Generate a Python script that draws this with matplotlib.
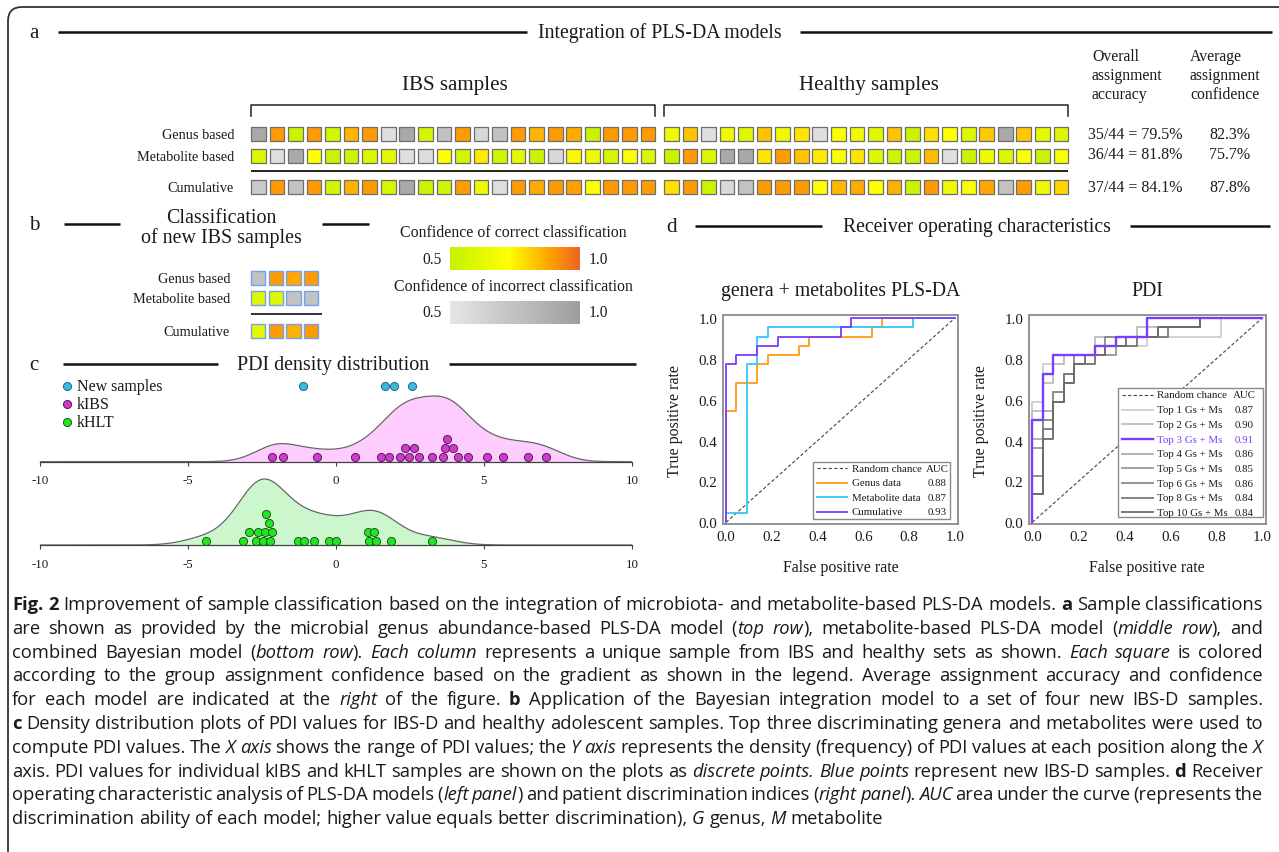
import numpy as np
import matplotlib
matplotlib.use("Agg")
import matplotlib.pyplot as plt
import matplotlib.transforms as mtransforms
from matplotlib.colors import LinearSegmentedColormap
from matplotlib.patches import Rectangle, FancyBboxPatch

plt.rcParams['font.family'] = ['Liberation Serif', 'DejaVu Serif']
plt.rcParams['axes.unicode_minus'] = False

W, H = 1279, 853
INK = '#1a1a1a'

# ---------------- data ----------------
row_names = ['Genus based', 'Metabolite based', 'Cumulative']
# assignment confidence of each sample; negative value = assigned to the wrong group
ibs_genus = [-0.92, 0.90, 0.52, 0.90, 0.55, 0.85, 0.90, -0.55, -0.92, 0.55, -0.75, 0.90,
             -0.60, -0.75, 0.90, 0.85, 0.90, 0.87, 0.52, 0.90, 0.90, 0.90]
ibs_metab = [0.59, -0.55, -0.92, 0.72, 0.52, 0.53, 0.59, 0.62, -0.55, -0.57, 0.72, 0.55,
             0.76, 0.55, 0.62, 0.52, -0.60, 0.74, 0.65, 0.57, 0.70, 0.59]
ibs_cumul = [-0.70, 0.90, -0.75, 0.90, 0.55, 0.86, 0.90, 0.56, -0.92, 0.52, 0.55, 0.90,
             0.65, -0.55, 0.90, 0.87, 0.90, 0.89, 0.72, 0.90, 0.90, 0.90]
hlt_genus = [0.66, 0.83, -0.55, 0.66, 0.60, 0.83, 0.66, 0.77, -0.55, 0.70, 0.66, 0.60,
             0.83, 0.52, 0.78, 0.72, 0.60, 0.82, -0.92, 0.82, 0.63, 0.59]
hlt_metab = [0.52, 0.90, 0.59, -0.92, -0.92, 0.77, 0.90, 0.83, 0.76, 0.70, 0.77, 0.60,
             0.53, 0.53, 0.84, -0.55, 0.52, 0.65, 0.59, 0.70, 0.52, 0.70]
hlt_cumul = [0.78, 0.90, 0.52, -0.60, -0.75, 0.90, 0.90, 0.90, 0.72, 0.85, 0.87, 0.72,
             0.86, 0.52, 0.90, 0.66, 0.70, 0.88, -0.75, 0.90, 0.66, 0.80]
accuracy = ['35/44 = 79.5%', '36/44 = 81.8%', '37/44 = 84.1%']
confidence = ['82.3%', '75.7%', '87.8%']

new_genus = [-0.75, 0.90, 0.88, 0.90]
new_metab = [0.60, 0.60, -0.75, -0.75]
new_cumul = [0.62, 0.90, 0.86, 0.90]

# PDI values and dot-stack level
kibs_pdi = [-2.16, -1.79, -0.64, 0.65, 1.52, 1.78, 2.17, 2.34, 2.48, 2.65, 2.80,
            3.26, 3.62, 3.68, 3.76, 3.95, 4.12, 4.47, 5.11, 5.65, 6.48, 7.11]
kibs_stack = [0, 0, 0, 0, 0, 0, 0, 1, 0, 1, 0, 0, 0, 1, 2, 1, 0, 0, 0, 0, 0, 0]
khlt_pdi = [-4.39, -3.14, -2.93, -2.71, -2.62, -2.45, -2.39, -2.36, -2.25, -2.21, -2.15,
            -1.29, -1.07, -0.74, -0.22, 0.02, 1.07, 1.12, 1.29, 1.36, 1.86, 3.26]
khlt_stack = [0, 0, 1, 0, 1, 0, 1, 3, 2, 0, 1, 0, 0, 0, 0, 0, 1, 0, 1, 0, 0, 0]
new_pdi = [-1.11, 1.65, 1.98, 2.57]

# ROC: true positives (of 22) reached at each false-positive count 0..21 (of 22)
roc_genus = [12, 15, 15, 17, 18, 18, 18, 19, 20, 20, 20, 20, 20, 20, 21, 22, 22, 22, 22, 22, 22, 22]
roc_metab = [1, 1, 17, 20, 21, 21, 21, 21, 21, 21, 21, 21, 21, 21, 21, 21, 21, 21, 22, 22, 22, 22]
roc_cumul = [17, 18, 18, 19, 19, 20, 20, 20, 20, 20, 20, 21, 22, 22, 22, 22, 22, 22, 22, 22, 22, 22]
auc_left = ['0.88', '0.87', '0.93']

pdi_labels = ['Top 1 Gs + Ms', 'Top 2 Gs + Ms', 'Top 3 Gs + Ms', 'Top 4 Gs + Ms',
              'Top 5 Gs + Ms', 'Top 6 Gs + Ms', 'Top 8 Gs + Ms', 'Top 10 Gs + Ms']
pdi_auc = ['0.87', '0.90', '0.91', '0.86', '0.85', '0.86', '0.84', '0.84']
roc_top1 = [13, 17, 17, 18, 18, 18, 18, 19, 19, 19, 19, 20, 20, 20, 20, 20, 20, 20, 22, 22, 22, 22]
roc_top2 = [12, 15, 17, 18, 18, 18, 20, 20, 20, 20, 21, 21, 21, 21, 21, 21, 22, 22, 22, 22, 22, 22]
roc_top3 = [11, 16, 18, 18, 18, 18, 19, 19, 20, 20, 20, 22, 22, 22, 22, 22, 22, 22, 22, 22, 22, 22]
roc_top4 = [9, 12, 14, 15, 17, 17, 18, 18, 20, 20, 20, 20, 21, 21, 21, 21, 22, 22, 22, 22, 22, 22]
roc_top5 = [8, 11, 13, 15, 17, 17, 18, 18, 19, 19, 20, 20, 21, 21, 21, 21, 22, 22, 22, 22, 22, 22]
roc_top6 = [5, 11, 14, 16, 18, 18, 18, 20, 20, 20, 20, 20, 21, 21, 21, 21, 22, 22, 22, 22, 22, 22]
roc_top8 = [3, 10, 13, 16, 17, 17, 19, 19, 19, 19, 20, 20, 20, 21, 21, 21, 22, 22, 22, 22, 22, 22]
roc_top10 = [3, 9, 13, 15, 17, 18, 18, 19, 19, 20, 20, 20, 21, 21, 21, 21, 22, 22, 22, 22, 22, 22]
pdi_curves = [roc_top1, roc_top2, roc_top3, roc_top4, roc_top5, roc_top6, roc_top8, roc_top10]
pdi_colors = ['#cfcfcf', '#bdbdbd', '#7a3cff', '#adadad', '#9c9c9c', '#8a8a8a', '#7b7b7b', '#6b6b6b']

caption = [
    [('Fig. 2', 'b'), (' Improvement of sample classification based on the integration of microbiota- and metabolite-based PLS-DA models. ', 'n'), ('a', 'b'), (' Sample classifications', 'n')],
    [('are shown as provided by the microbial genus abundance-based PLS-DA model (', 'n'), ('top row', 'i'), ('), metabolite-based PLS-DA model (', 'n'), ('middle row', 'i'), ('), and', 'n')],
    [('combined Bayesian model (', 'n'), ('bottom row', 'i'), ('). ', 'n'), ('Each column', 'i'), (' represents a unique sample from IBS and healthy sets as shown. ', 'n'), ('Each square', 'i'), (' is colored', 'n')],
    [('according to the group assignment confidence based on the gradient as shown in the legend. Average assignment accuracy and confidence', 'n')],
    [('for each model are indicated at the ', 'n'), ('right', 'i'), (' of the figure. ', 'n'), ('b', 'b'), (' Application of the Bayesian integration model to a set of four new IBS-D samples.', 'n')],
    [('c', 'b'), (' Density distribution plots of PDI values for IBS-D and healthy adolescent samples. Top three discriminating genera and metabolites were used to', 'n')],
    [('compute PDI values. The ', 'n'), ('X axis', 'i'), (' shows the range of PDI values; the ', 'n'), ('Y axis', 'i'), (' represents the density (frequency) of PDI values at each position along the ', 'n'), ('X', 'i')],
    [('axis. PDI values for individual kIBS and kHLT samples are shown on the plots as ', 'n'), ('discrete points. Blue points', 'i'), (' represent new IBS-D samples. ', 'n'), ('d', 'b'), (' Receiver', 'n')],
    [('operating characteristic analysis of PLS-DA models (', 'n'), ('left panel', 'i'), (') and patient discrimination indices (', 'n'), ('right panel', 'i'), ('). ', 'n'), ('AUC', 'i'), (' area under the curve (represents the', 'n')],
    [('discrimination ability of each model; higher value equals better discrimination), ', 'n'), ('G', 'i'), (' genus, ', 'n'), ('M', 'i'), (' metabolite', 'n')],
]

# ---------------- helpers ----------------
cmap_ok = LinearSegmentedColormap.from_list('ok', [(0, '#c6f200'), (0.45, '#ffff00'), (0.78, '#ffa000'), (1, '#ef6423')])
cmap_bad = LinearSegmentedColormap.from_list('bad', ['#e6e6e6', '#9e9e9e'])


def sq_color(v):
    t = (abs(v) - 0.5) / 0.5
    return cmap_ok(t) if v > 0 else cmap_bad(t)


fig = plt.figure(figsize=(W / 100, H / 100), dpi=100)


def px_axes(x0, y0, x1, y1):
    return fig.add_axes([x0 / W, 1 - y1 / H, (x1 - x0) / W, (y1 - y0) / H])


def kde(vals, grid, bw):
    v = np.asarray(vals)
    d = (grid[:, None] - v[None, :]) / bw
    return np.exp(-0.5 * d ** 2).sum(1) / (len(v) * bw * np.sqrt(2 * np.pi))


# ---------------- c: density panels ----------------
def density_panel(y_top, y_base, vals, stack, fill, fc, ec, peak_px, bw):
    ax = px_axes(39.7, y_top, 632, y_base)
    grid = np.linspace(-10, 10, 800)
    dens = kde(vals, grid, bw)
    ax.fill_between(grid, dens, color=fill, lw=0)
    ax.plot(grid, dens, color='#666666', lw=0.9)
    hpx = y_base - y_top
    ax.set_ylim(0, dens.max() * hpx / peak_px)
    ax.set_xlim(-10, 10)
    tr = mtransforms.blended_transform_factory(ax.transData, ax.transAxes)
    ax.scatter(vals, (4.4 + 9 * np.asarray(stack)) / hpx, s=34, fc=fc, ec=ec, lw=0.7,
               transform=tr, clip_on=False, zorder=3)
    for s in ['top', 'left', 'right']:
        ax.spines[s].set_visible(False)
    ax.spines['bottom'].set_color('#444444')
    ax.spines['bottom'].set_linewidth(0.9)
    ax.set_yticks([])
    ax.set_xticks([-10, -5, 0, 5, 10])
    ax.tick_params(axis='x', length=3, width=0.8, color='#444444', pad=6, labelsize=9.3, labelcolor=INK)
    ax.patch.set_alpha(0)
    return ax, tr, hpx


ax_ibs, tr_ibs, h_ibs = density_panel(378, 462.7, kibs_pdi, kibs_stack, '#ffccff', '#cc3ccc', '#5a1a5a', 65.7, 0.7)
ax_ibs.scatter(new_pdi, [(462.7 - 387) / h_ibs] * len(new_pdi), s=34, fc='#3cb8dc', ec='#1d6a88',
               lw=0.7, transform=tr_ibs, clip_on=False, zorder=3)
density_panel(470, 546, khlt_pdi, khlt_stack, '#ccf7cc', '#22e622', '#1a5a1a', 66, 0.75)


# ---------------- d: ROC panels ----------------
def roc_axes(x0, x1, title):
    ax = px_axes(x0, 316.5, x1, 525)
    ax.set_xlim(-0.015, 1.015)
    ax.set_ylim(-0.008, 1.012)
    ax.plot([0, 1], [0, 1], ls=(0, (3, 2)), color='#444444', lw=0.8)
    for s in ax.spines.values():
        s.set_color('#8a8a8a')
        s.set_linewidth(1.3)
    ticks = [0, 0.2, 0.4, 0.6, 0.8, 1.0]
    ax.set_xticks(ticks)
    ax.set_yticks(ticks)
    ax.set_xticklabels(['%.1f' % t for t in ticks])
    ax.set_yticklabels(['%.1f' % t for t in ticks])
    ax.tick_params(length=0, labelsize=10.8, labelcolor=INK, pad=4)
    ax.set_xlabel('False positive rate', fontsize=11.4, color=INK)
    ax.set_ylabel('True positive rate', fontsize=11.4, color=INK)
    ax.xaxis.set_label_coords(0.5, -0.168)
    ax.yaxis.set_label_coords(-0.168, 0.5)
    ax.set_title(title, fontsize=14.2, color=INK, pad=15)
    return ax


def roc_step(ax, tprs, color, lw=1.2, z=2):
    xs = np.r_[0, np.arange(23)] / 22
    ys = np.r_[0, tprs, tprs[-1]] / 22
    ax.step(xs, ys, where='post', color=color, lw=lw, zorder=z)


ax_l = roc_axes(722.6, 958.4, 'genera + metabolites PLS-DA')
left_colors = ['#ff9a1a', '#33c8f5', '#7a3cff']
for tprs, col in zip([roc_genus, roc_metab, roc_cumul], left_colors):
    roc_step(ax_l, tprs, col, lw=1.3)

ax_r = roc_axes(1028.8, 1265.8, 'PDI')
for i, (tprs, col) in enumerate(zip(pdi_curves, pdi_colors)):
    if i != 2:
        roc_step(ax_r, tprs, col, lw=1.3)
roc_step(ax_r, roc_top3, pdi_colors[2], lw=1.7, z=4)

# ---------------- page overlay (pixel coordinates) ----------------
pg = fig.add_axes([0, 0, 1, 1], zorder=10)
pg.axis('off')


def txt(x, y, s, px, ha='center', va='center', **kw):
    kw.setdefault('color', INK)
    return pg.text(x, y, s, fontsize=px * 0.72, ha=ha, va=va, **kw)


def hline(x0, x1, y, lw=1.8, color='#111111'):
    pg.plot([x0, x1], [y, y], color=color, lw=lw, solid_capstyle='butt')


pg.add_patch(FancyBboxPatch((8, 8), 1500, 1200, boxstyle='round,pad=0,rounding_size=14',
                            fill=False, ec='#333333', lw=1.3))

# a
txt(34, 33, 'a', 21)
hline(58, 527, 33)
txt(660, 33, 'Integration of PLS-DA models', 19.8)
hline(800, 1272, 33)
txt(455, 85, 'IBS samples', 21)
txt(869, 85, 'Healthy samples', 21)
SQ, PITCH = 14.7, 18.55
X_IBS, X_HLT = 251, 664
ROW_Y = [135, 157, 188]
for x0 in (X_IBS, X_HLT):
    x1 = x0 + 21 * PITCH + SQ
    pg.plot([x0, x0, x1, x1], [117, 106, 106, 117], color='#222222', lw=1.1)
for ry, name, ibs_row, hlt_row in zip(ROW_Y, row_names, [ibs_genus, ibs_metab, ibs_cumul],
                                      [hlt_genus, hlt_metab, hlt_cumul]):
    txt(234, ry, name, 14.2, ha='right')
    for x0, vals in ((X_IBS, ibs_row), (X_HLT, hlt_row)):
        for i, v in enumerate(vals):
            pg.add_patch(Rectangle((x0 + i * PITCH, ry - SQ / 2), SQ, SQ, fc=sq_color(v), ec='#6e6e6e', lw=0.9))
hline(X_IBS, X_HLT + 21 * PITCH + SQ, 172, lw=1.4, color='#222222')
for j, s in enumerate(['Overall', 'assignment', 'accuracy']):
    txt(1092, 57 + 19 * j, s, 15.8, ha='left')
for j, s in enumerate(['Average', 'assignment', 'confidence']):
    txt(1190, 57 + 19 * j, s, 15.8, ha='left')
for ry, a_s, c_s in zip([135, 155, 188], accuracy, confidence):
    txt(1135, ry, a_s, 16, ha='center')
    txt(1230, ry, c_s, 16, ha='center')

# b
txt(34, 225, 'b', 21)
hline(64, 120, 225)
hline(322, 369, 225)
txt(221, 218, 'Classification', 20)
txt(221, 238, 'of new IBS samples', 20)
B_Y = [279, 299, 332]
for ry, name, vals in zip(B_Y, row_names, [new_genus, new_metab, new_cumul]):
    txt(230, ry, name, 14.2, ha='right')
    for i, v in enumerate(vals):
        pg.add_patch(Rectangle((251 + i * 17.6, ry - 7.2), 14.4, 14.4, fc=sq_color(v), ec='#6fa3f0', lw=1.0))
hline(251, 322, 315, lw=1.4, color='#333333')

grad = np.linspace(0, 1, 256)[None, :]
txt(513, 233, 'Confidence of correct classification', 15.9)
pg.imshow(grad, cmap=cmap_ok, extent=[450, 580, 271, 248], aspect='auto')
txt(442, 260, '0.5', 15.5, ha='right')
txt(589, 260, '1.0', 15.5, ha='left')
txt(513, 287, 'Confidence of incorrect classification', 15.9)
pg.imshow(grad, cmap=cmap_bad, extent=[450, 580, 325, 302], aspect='auto')
txt(442, 313, '0.5', 15.5, ha='right')
txt(589, 313, '1.0', 15.5, ha='left')

# c
txt(34, 365, 'c', 21)
hline(63, 218, 365)
txt(333, 365, 'PDI density distribution', 20)
hline(449, 636, 365)
for ly, lab, fc, ec in zip([387, 405, 423], ['New samples', 'kIBS', 'kHLT'],
                           ['#3cb8dc', '#cc3ccc', '#22e622'], ['#1d6a88', '#5a1a5a', '#1a5a1a']):
    pg.scatter([67], [ly], s=34, fc=fc, ec=ec, lw=0.7)
    txt(77, ly, lab, 16, ha='left')

# d
txt(672, 227, 'd', 21)
hline(695, 822, 227)
txt(977, 227, 'Receiver operating characteristics', 19.8)
hline(1130, 1270, 227)


def roc_legend(x0, y0, x1, y1, rows, row_y0, dy, lx0, lx1, tx, ax_c):
    pg.add_patch(Rectangle((x0, y0), x1 - x0, y1 - y0, fc='white', ec='#8a8a8a', lw=1.0))
    for k, (lab, col, ls, lw, auc, tcol) in enumerate(rows):
        y = row_y0 + k * dy
        pg.plot([lx0, lx1], [y, y], color=col, ls=ls, lw=lw)
        txt(tx, y, lab, 10.9, ha='left', color=tcol)
        txt(ax_c, y, auc, 10.9, color=tcol)


left_rows = [('Random chance', '#444444', (0, (3, 2)), 0.8, 'AUC', INK)]
for lab, col, auc in zip(['Genus data', 'Metabolite data', 'Cumulative'], left_colors, auc_left):
    left_rows.append((lab, col, '-', 1.3, auc, INK))
roc_legend(813.3, 463.3, 950, 520, left_rows, 469.3, 14.5, 817, 847, 852, 937)

right_rows = [('Random chance', '#444444', (0, (3, 2)), 0.8, 'AUC', INK)]
for k, (lab, col, auc) in enumerate(zip(pdi_labels, pdi_colors, pdi_auc)):
    right_rows.append((lab, col, '-', 1.7 if k == 2 else 1.3, auc, col if k == 2 else INK))
roc_legend(1118.3, 389.3, 1262.7, 518.3, right_rows, 396, 14.67, 1121.7, 1153.3, 1156.7, 1244)

pg.set_xlim(0, W)
pg.set_ylim(H, 0)

# ---------------- caption (justified, mixed styles) ----------------
CAP_FAMILY = ['Open Sans', 'DejaVu Sans']
STY = {'n': {}, 'i': {'style': 'italic'}, 'b': {'weight': 'bold'}}
renderer = fig.canvas.get_renderer()


def measure(s, st, fs):
    t = pg.text(0, 0, s, fontsize=fs, family=CAP_FAMILY, **STY[st])
    w = t.get_window_extent(renderer).width
    t.remove()
    return w


parsed = []
for segs in caption:
    words = [[]]
    for s, st in segs:
        for j, part in enumerate(s.split(' ')):
            if j > 0:
                words.append([])
            if part:
                words[-1].append((part, st))
    parsed.append([w for w in words if w])

CX0, CX1 = 12, 1263
base = 10.0
sp_base = measure('a a', 'n', base) - measure('aa', 'n', base)
nat = []
for words in parsed[:-1]:
    nat.append(sum(measure(p, st, base) for w in words for p, st in w) + sp_base * (len(words) - 1))
cap_fs = base * (CX1 - CX0) / np.percentile(nat, 60)
sp = sp_base * cap_fs / base

for k, words in enumerate(parsed):
    y = 610 + k * 23.8
    widths = [[measure(p, st, cap_fs) for p, st in w] for w in words]
    total = sum(sum(ws) for ws in widths)
    if k < len(parsed) - 1:
        gap = max((CX1 - CX0 - total) / (len(words) - 1), 0.55 * sp)
    else:
        gap = sp
    x = CX0
    for w, ws in zip(words, widths):
        for (p, st), pw in zip(w, ws):
            pg.text(x, y, p, fontsize=cap_fs, family=CAP_FAMILY, ha='left', va='baseline', color=INK, **STY[st])
            x += pw
        x += gap

fig.savefig('out.png', dpi=100)
